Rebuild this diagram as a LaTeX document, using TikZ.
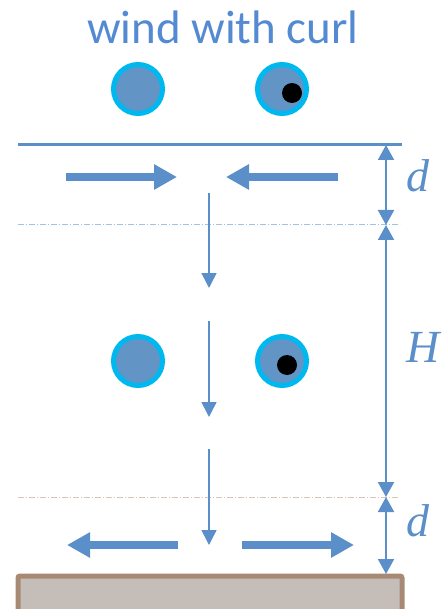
\documentclass[tikz,border=0pt]{standalone}
\usepackage{fontspec}
\usepackage{xcolor}
\usepackage{tikz}
\usetikzlibrary{arrows.meta}
\newfontfamily\titlefont{Carlito}
\newfontfamily\labelfont{Liberation Serif}
\definecolor{windblue}{RGB}{91,143,201}
\definecolor{titleblue}{RGB}{84,138,210}
\definecolor{ringcyan}{RGB}{0,184,240}
\definecolor{vortfill}{RGB}{99,148,198}
\definecolor{upline}{RGB}{157,195,230}
\definecolor{lowline}{RGB}{214,196,184}
\definecolor{soilfill}{RGB}{197,190,184}
\definecolor{soildraw}{RGB}{168,138,116}

\begin{document}
\begin{tikzpicture}[x=1pt, y=-1pt,
  vort/.style={circle, draw=ringcyan, line width=5pt, fill=vortfill, minimum size=49pt, inner sep=0pt},
  core/.style={circle, fill=black, minimum size=20pt, inner sep=0pt},
  flow/.style={draw=windblue, line width=8pt, -{Triangle[length=23pt,width=24pt]}},
  sink/.style={draw=windblue, line width=1.5pt, -{Triangle[length=15pt,width=15pt]}},
  dimline/.style={draw=windblue, line width=2pt, {Triangle[length=15pt,width=16pt]}-{Triangle[length=15pt,width=16pt]}},
  lbl/.style={text=windblue, font=\labelfont\itshape\fontsize{46}{50}\selectfont, inner sep=0pt}]
\useasboundingbox (0,0) rectangle (446,609);
\clip (0,0) rectangle (446,609);
% title and vortices
\node[anchor=base, text=titleblue, font=\titlefont\fontsize{47}{50}\selectfont] (title) at (223,44) {wind with curl};
\node[vort] (v1) at (138,89) {};
\node[vort] (v2) at (282,89) {};
\node[core] (c2) at (292,93) {};
\node[vort] (v3) at (138,361) {};
\node[vort] (v4) at (282,361) {};
\node[core] (c4) at (287,365) {};
% levels
\coordinate (topL) at (18,145);
\coordinate (topR) at (402,145);
\coordinate (midL) at (18,225);
\coordinate (midR) at (400,225);
\coordinate (lowL) at (18,497);
\coordinate (lowR) at (400,497);
\draw[windblue, line width=3pt] (topL) -- (topR);
\draw[upline, line width=1pt, dash pattern=on 6pt off 2pt on 1pt off 2pt] (midL) -- (midR);
\draw[lowline, line width=1pt, dash pattern=on 6pt off 2pt on 1pt off 2pt] (lowL) -- (lowR);
% ground
\draw[soildraw, fill=soilfill, line width=5pt, rounded corners=2pt] (18,576) rectangle (402,620);
% horizontal flow
\coordinate (f1) at (66,177);
\coordinate (f2) at (177,177);
\coordinate (f3) at (338,177);
\coordinate (f4) at (226,177);
\coordinate (f5) at (178,545);
\coordinate (f6) at (67,545);
\coordinate (f7) at (242,545);
\coordinate (f8) at (354,545);
\draw[flow] (f1) -- (f2);
\draw[flow] (f3) -- (f4);
\draw[flow] (f5) -- (f6);
\draw[flow] (f7) -- (f8);
% sinking air
\coordinate (s1) at (209,193);
\coordinate (s2) at (209,288);
\coordinate (s3) at (209,321);
\coordinate (s4) at (209,417);
\coordinate (s5) at (209,449);
\coordinate (s6) at (209,545);
\draw[sink] (s1) -- (s2);
\draw[sink] (s3) -- (s4);
\draw[sink] (s5) -- (s6);
% dimensions
\coordinate (m1) at (386,145);
\coordinate (m2) at (386,225);
\coordinate (m3) at (386,497);
\coordinate (m4) at (386,574);
\draw[dimline] (m1) -- (m2);
\draw[dimline] (m2) -- (m3);
\draw[dimline] (m3) -- (m4);
\node[lbl, anchor=base] (d1) at (418,192) {d};
\node[lbl, anchor=base] (h) at (423,362) {H};
\node[lbl, anchor=base] (d2) at (418,536) {d};
\end{tikzpicture}
\end{document}
